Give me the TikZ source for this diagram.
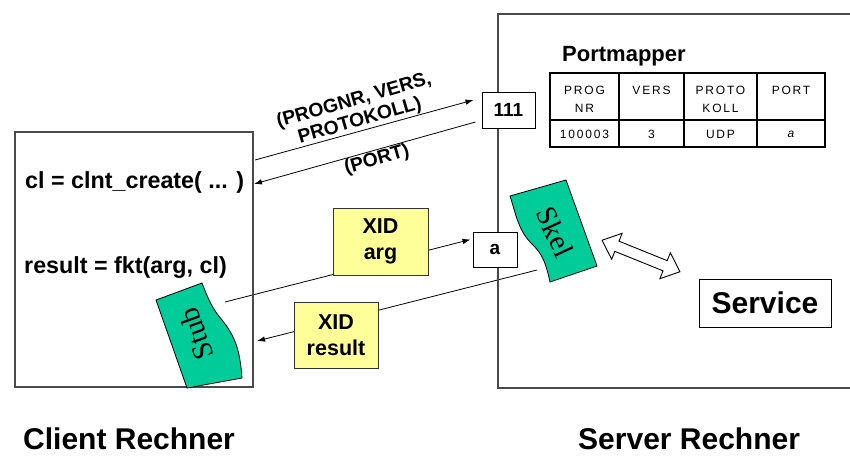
\documentclass[tikz,border=0pt]{standalone}
\usepackage{fontspec}
\setmainfont{Liberation Sans}
\newfontfamily\paperfont{Liberation Serif}
\newfontfamily\cellfont[LetterSpace=15]{Liberation Sans}
\usetikzlibrary{arrows.meta,calc}
\pgfdeclarelayer{bg}
\pgfsetlayers{bg,main}
\definecolor{hostline}{HTML}{4A4A4A}
\definecolor{xidfill}{HTML}{FFFF99}
\definecolor{stubgreen}{HTML}{00CC99}

\begin{document}
\begin{tikzpicture}[x=1pt,y=-1pt,
  host/.style={draw=hostline,line width=1.5pt,inner sep=0pt,anchor=north west},
  portbox/.style={draw,line width=1pt,fill=white,inner sep=0pt,
    font=\fontsize{19}{22}\selectfont\bfseries},
  xid/.style={draw=black!80,line width=1pt,fill=xidfill,inner sep=0pt,align=center,
    font=\fontsize{21.5}{26}\selectfont\bfseries},
  msg/.style={line width=0.8pt,-{Latex[length=8pt,width=5.5pt]}},
  code/.style={anchor=base west,inner sep=0pt,font=\fontsize{23.3}{26}\selectfont\bfseries},
  hostname/.style={anchor=base west,inner sep=0pt,font=\fontsize{30}{34}\selectfont\bfseries},
  paper/.style={draw=black,line width=0.8pt,fill=stubgreen},
  papertext/.style={inner sep=0pt,font=\fontsize{29}{32}\selectfont\paperfont},
  cell/.style={inner sep=0pt,font=\cellfont\fontsize{12}{14}\selectfont},
  msglabel/.style={inner sep=0pt,align=center,rotate=16,
    font=\fontsize{19.3}{21}\selectfont\bfseries}
]
\useasboundingbox (0,0) rectangle (850,455);

% the two hosts
\node[host,minimum width=238pt,minimum height=255pt] (client) at (14,131) {};
\node[host,minimum width=356pt,minimum height=374pt] (server) at (497,13) {};

% client program text
\node[code] (create) at (25,188) {cl = clnt\_create( ... )};
\node[code] (call) at (24,273) {result = fkt(arg, cl)};

% portmapper table
\node[anchor=base west,inner sep=0pt,font=\fontsize{22}{26}\selectfont\bfseries]
  (pmtitle) at (562,61) {Portmapper};
\draw[line width=1.2pt] (550,120) -- (825,120)
  (619,73) -- (619,147) (684,73) -- (684,147) (757,73) -- (757,147);
\draw[line width=2pt] (550,73) rectangle (825,147);
\node[cell] (c11) at (584.5,90) {PROG};
\node[cell] (c11b) at (584.5,108) {NR};
\node[cell] (c12) at (651.5,90) {VERS};
\node[cell] (c13) at (720.5,90) {PROTO};
\node[cell] (c13b) at (720.5,108) {KOLL};
\node[cell] (c14) at (791,90) {PORT};
\node[cell] (c21) at (584.5,134) {100003};
\node[cell] (c22) at (651.5,134) {3};
\node[cell] (c23) at (720.5,134) {UDP};
\node[cell] (c24) at (791,134) {\itshape a};

% ports on the server
\node[portbox,minimum width=53pt,minimum height=36pt] (pm) at (508.5,110) {111};
\node[portbox,minimum width=44pt,minimum height=35pt] (port) at (495,249.5) {a};

% stub and skeleton
\path[paper] (156,300) -- (202,283)
  .. controls (208,298) and (211,307) .. (222,320)
  .. controls (235,336) and (240,350) .. (242,378)
  -- (187,388) -- cycle;
\node[papertext,rotate=110] (stub) at (196,334) {Stub};
\path[paper] (510,196) -- (566,180) -- (597,266) -- (550,282)
  .. controls (546,264) and (543,255) .. (533,245)
  .. controls (518,231) and (516,214) .. (510,196) -- cycle;
\node[papertext,rotate=-65] (skel) at (555,232) {Skel};

% service
\node[draw,line width=1pt,inner sep=0pt,minimum width=132pt,minimum height=48pt,
  font=\fontsize{30}{34}\selectfont\bfseries] (service) at (765,303) {Service};
\begin{scope}[shift={(641,256)},rotate=-22]
  \draw[line width=0.9pt,fill=white] (-42,0) -- (-26,-14) -- (-26,-5.5) -- (26,-5.5)
    -- (26,-14) -- (42,0) -- (26,14) -- (26,5.5) -- (-26,5.5) -- (-26,14) -- cycle;
\end{scope}

% XID messages
\node[xid,minimum width=95pt,minimum height=67pt] (xarg) at (380.5,241.5) {XID\\arg};
\node[xid,minimum width=84pt,minimum height=66pt] (xres) at (336,335) {XID\\result};

% message labels
\node[msglabel] (reqlabel) at (357,111) {(PROGNR, VERS,\\PROTOKOLL)};
\node[msglabel] (replabel) at (377,160) {(PORT)};

% host names
\node[hostname] (clientname) at (23,449) {Client Rechner};
\node[hostname] (servername) at (578,449) {Server Rechner};

% connector end points
\coordinate (reqA) at (255,160);
\coordinate (reqB) at ($(pm.west)+(-8,-10)$);
\coordinate (repA) at ($(pm.west)+(-6,12)$);
\coordinate (repB) at (254,184);
\coordinate (argA) at (225,302);
\coordinate (argB) at ($(port.west)+(-2,-10)$);
\coordinate (resA) at (537,270);
\coordinate (resB) at (257,341);

\begin{pgfonlayer}{bg}
  \draw[msg] (reqA) -- (reqB);
  \draw[msg] (repA) -- (repB);
  \draw[msg] (argA) -- (argB);
  \draw[msg] (resA) -- (resB);
\end{pgfonlayer}
\end{tikzpicture}
\end{document}
